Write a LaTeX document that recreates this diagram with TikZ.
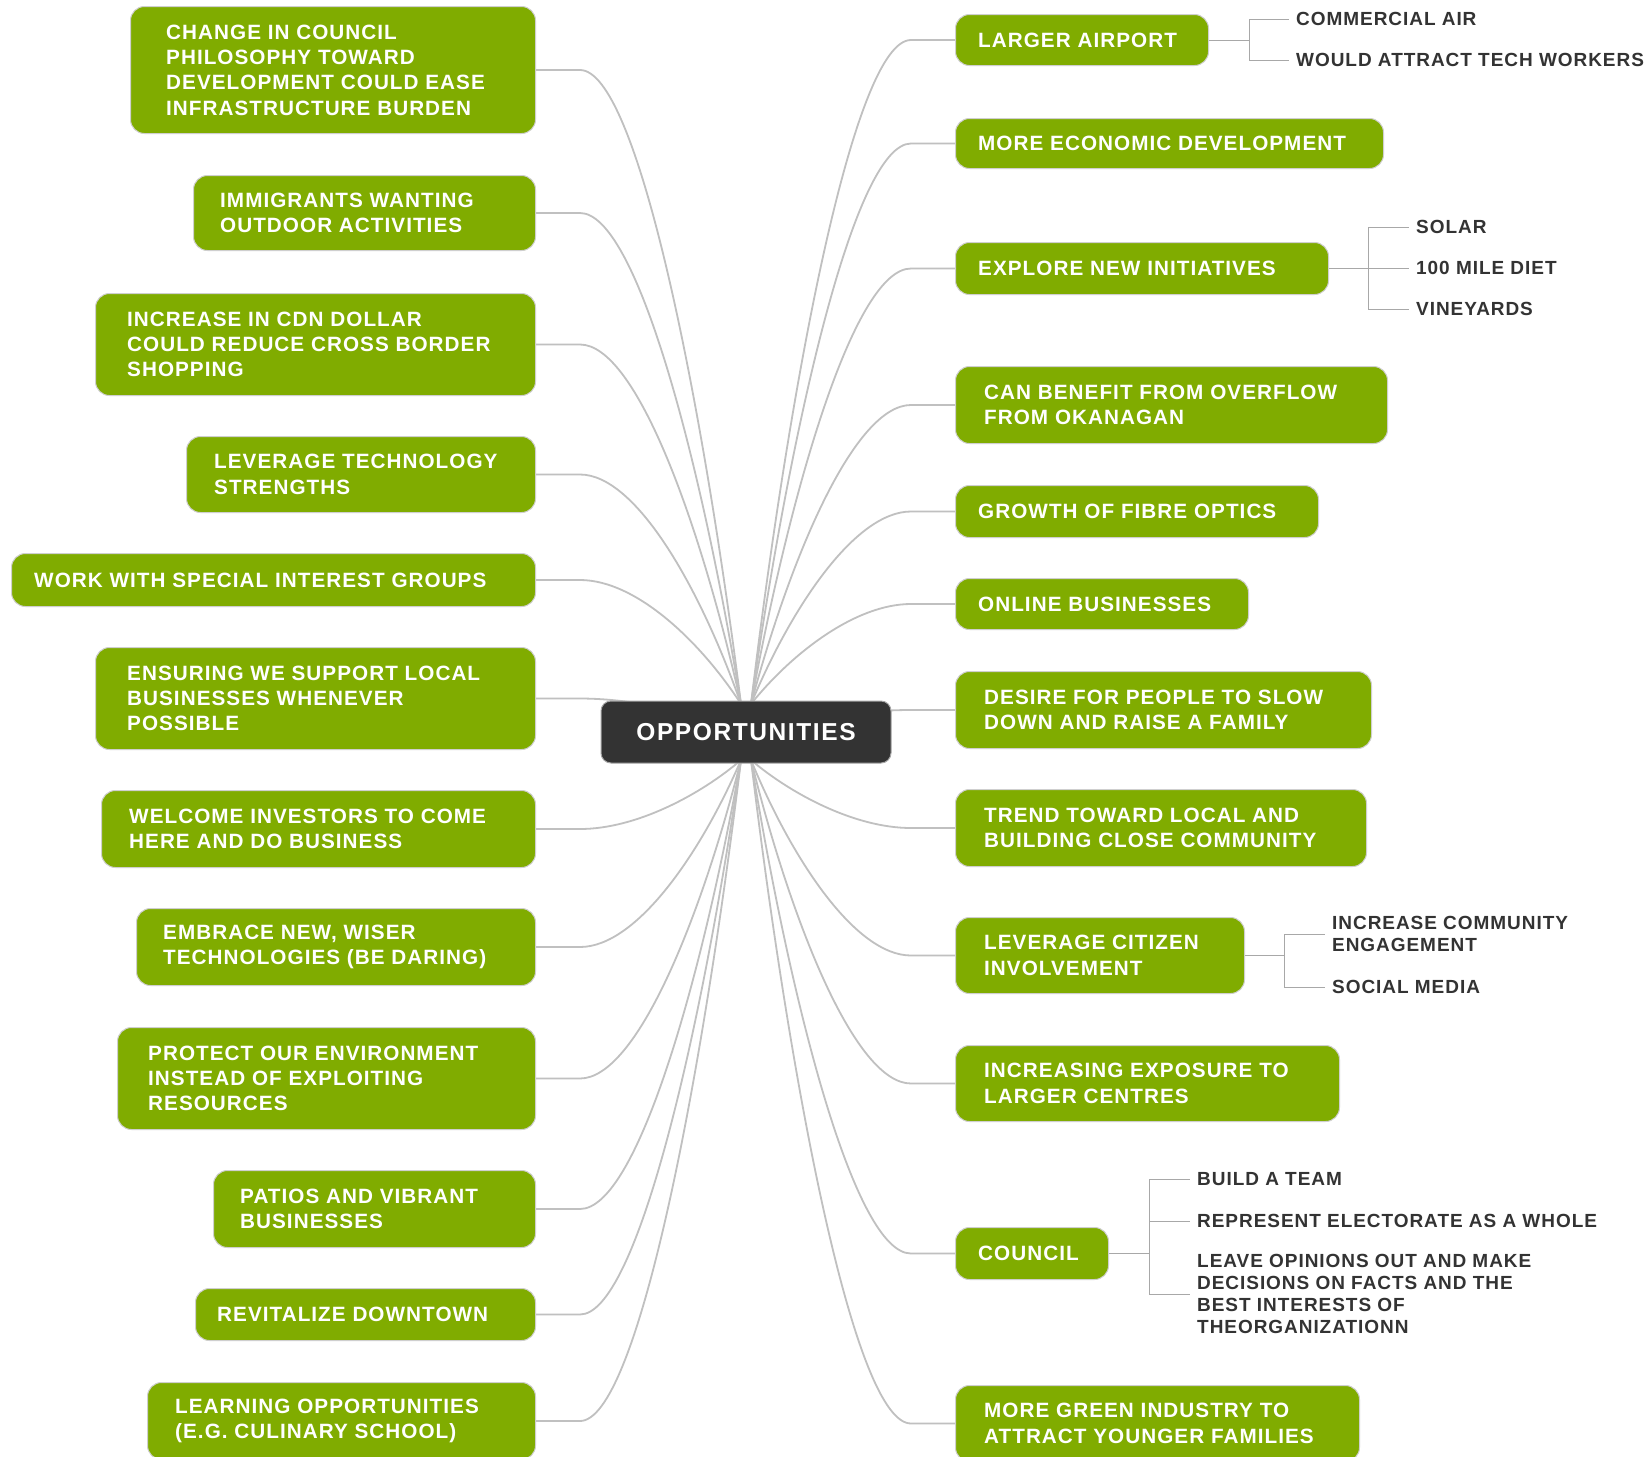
\documentclass[tikz,border=0pt]{standalone}
\usepackage{fontspec}
\setmainfont{Liberation Sans}
\newfontfamily\lsfont[LetterSpace=5]{Liberation Sans}
\newfontfamily\lscfont[LetterSpace=6.5]{Liberation Sans}
\usetikzlibrary{calc}
\pgfdeclarelayer{bg}
\pgfsetlayers{bg,main}
\definecolor{gfill}{HTML}{80AC00}
\definecolor{gline}{HTML}{CFCFCF}
\definecolor{cfill}{HTML}{333333}
\definecolor{connc}{HTML}{C0C0C0}
\definecolor{sublc}{HTML}{A8A8A8}
\definecolor{stextc}{HTML}{333333}
\newcommand{\greenbox}[7]{%
  \node[gbox, anchor=north west, minimum width={(#4)-(#2)}, minimum height={(#5)-(#3)}] (#1) at (#2,#3) {};
  \node[gtext, anchor=west] (#1t) at ([xshift=#6pt]#1.west) {#7};
}
\begin{document}
\begin{tikzpicture}[x=1pt,y=-1pt,
  gbox/.style={rectangle, rounded corners=14pt, fill=gfill, draw=gline, line width=1pt, inner sep=0pt},
  gtext/.style={inner sep=0pt, align=left, text=white, font={\lsfont\bfseries\fontsize{20.7}{25.3}\selectfont}},
  cbox/.style={rectangle, rounded corners=10pt, fill=cfill, draw=gray!70, line width=1pt, text=white, inner sep=0pt,
    font={\lscfont\bfseries\fontsize{24.5}{28}\selectfont}},
  stext/.style={inner sep=0pt, align=left, text=stextc, font={\lsfont\bfseries\fontsize{19}{22}\selectfont}},
  conn/.style={draw=connc, line width=1.8pt},
  subl/.style={draw=sublc, line width=1pt},
  branch/.style={to path={let \p1=(\tikztostart), \p2=(\tikztotarget) in
    -- ({\x1+(#1)},\y1)
    .. controls ({\x1+(#1)+0.35*(\x2-\x1-(#1))},\y1)
    and ({\x1+(#1)+0.75*(\x2-\x1-(#1))},{\y1+0.5*(\y2-\y1)}) .. (\tikztotarget)}}
]
\useasboundingbox (0,0) rectangle (1650,1457);
\begin{pgfonlayer}{bg}
\fill[white] (0,0) rectangle (1650,1457);
\end{pgfonlayer}

% central topic
\node[cbox, minimum width=290, minimum height=62] (c) at (746,732) {OPPORTUNITIES};

% left branches
\greenbox{L1}{130}{6}{535}{133}{36}{CHANGE IN COUNCIL\\PHILOSOPHY TOWARD\\DEVELOPMENT COULD EASE\\INFRASTRUCTURE BURDEN}
\greenbox{L2}{193}{175}{535}{250}{27}{IMMIGRANTS WANTING\\OUTDOOR ACTIVITIES}
\greenbox{L3}{95}{293}{535}{395}{32}{INCREASE IN CDN DOLLAR\\COULD REDUCE CROSS BORDER\\SHOPPING}
\greenbox{L4}{186}{436}{535}{512}{28}{LEVERAGE TECHNOLOGY\\STRENGTHS}
\greenbox{L5}{11}{553}{535}{606}{23}{WORK WITH SPECIAL INTEREST GROUPS}
\greenbox{L6}{95}{647}{535}{749}{32}{ENSURING WE SUPPORT LOCAL\\BUSINESSES WHENEVER\\POSSIBLE}
\greenbox{L7}{101}{790}{535}{867}{28}{WELCOME INVESTORS TO COME\\HERE AND DO BUSINESS}
\greenbox{L8}{136}{908}{535}{985}{27}{EMBRACE NEW, WISER\\TECHNOLOGIES (BE DARING)}
\greenbox{L9}{117}{1027}{535}{1129}{31}{PROTECT OUR ENVIRONMENT\\INSTEAD OF EXPLOITING\\RESOURCES}
\greenbox{L10}{213}{1170}{535}{1247}{27}{PATIOS AND VIBRANT\\BUSINESSES}
\greenbox{L11}{195}{1288}{535}{1340}{22}{REVITALIZE DOWNTOWN}
\greenbox{L12}{147}{1382}{535}{1459}{28}{LEARNING OPPORTUNITIES\\(E.G. CULINARY SCHOOL)}

% right branches
\greenbox{R1}{955}{14}{1208}{65}{23}{LARGER AIRPORT}
\greenbox{R2}{955}{118}{1383}{168}{23}{MORE ECONOMIC DEVELOPMENT}
\greenbox{R3}{955}{242}{1328}{294}{23}{EXPLORE NEW INITIATIVES}
\greenbox{R4}{955}{366}{1387}{443}{29}{CAN BENEFIT FROM OVERFLOW\\FROM OKANAGAN}
\greenbox{R5}{955}{485}{1318}{537}{23}{GROWTH OF FIBRE OPTICS}
\greenbox{R6}{955}{578}{1248}{629}{23}{ONLINE BUSINESSES}
\greenbox{R7}{955}{671}{1371}{748}{29}{DESIRE FOR PEOPLE TO SLOW\\DOWN AND RAISE A FAMILY}
\greenbox{R8}{955}{789}{1366}{866}{29}{TREND TOWARD LOCAL AND\\BUILDING CLOSE COMMUNITY}
\greenbox{R9}{955}{917}{1244}{993}{29}{LEVERAGE CITIZEN\\INVOLVEMENT}
\greenbox{R10}{955}{1045}{1339}{1121}{29}{INCREASING EXPOSURE TO\\LARGER CENTRES}
\greenbox{R11}{955}{1227}{1108}{1279}{23}{COUNCIL}
\greenbox{R12}{955}{1385}{1359}{1461}{29}{MORE GREEN INDUSTRY TO\\ATTRACT YOUNGER FAMILIES}

% sub topics
\node[stext, anchor=west] (S1a) at (1296,19) {COMMERCIAL AIR};
\node[stext, anchor=west] (S1b) at (1296,60) {WOULD ATTRACT TECH WORKERS};
\node[stext, anchor=west] (S3a) at (1416,227) {SOLAR};
\node[stext, anchor=west] (S3b) at (1416,268) {100 MILE DIET};
\node[stext, anchor=west] (S3c) at (1416,309) {VINEYARDS};
\node[stext, anchor=west] (S9a) at (1332,934) {INCREASE COMMUNITY\\ENGAGEMENT};
\node[stext, anchor=west] (S9b) at (1332,987) {SOCIAL MEDIA};
\node[stext, anchor=west] (S11a) at (1197,1179) {BUILD A TEAM};
\node[stext, anchor=west] (S11b) at (1197,1221) {REPRESENT ELECTORATE AS A WHOLE};
\node[stext, anchor=west] (S11c) at (1197,1294) {LEAVE OPINIONS OUT AND MAKE\\DECISIONS ON FACTS AND THE\\BEST INTERESTS OF\\THEORGANIZATIONN};

% bracket coordinates
\coordinate (k1) at (1249,0);
\coordinate (k3) at (1368,0);
\coordinate (k9) at (1284,0);
\coordinate (k11) at (1149,0);

% ends on the central topic
\coordinate (tl) at (741,704);
\coordinate (tr) at (751,704);
\coordinate (bl) at (741,760);
\coordinate (br) at (751,760);

\begin{pgfonlayer}{bg}
\foreach \n/\e in {L1/tl,L2/tl,L3/tl,L4/tl,L5/tl,L6/c.center,L7/bl,L8/bl,L9/bl,L10/bl,L11/bl,L12/bl}{
  \draw[conn] (\n.east) to[branch=44pt] (\e);
}
\foreach \n/\e in {R1/tr,R2/tr,R3/tr,R4/tr,R5/tr,R6/tr,R7/c.center,R8/br,R9/br,R10/br,R11/br,R12/br}{
  \draw[conn] (\n.west) to[branch=-44pt] (\e);
}
\end{pgfonlayer}

% sub-topic brackets
\draw[subl] (R1.east) -- (R1.east -| k1);
\draw[subl] (k1 |- S1a.west) -- (k1 |- S1b.west);
\foreach \s in {S1a,S1b}{\draw[subl] (k1 |- \s.west) -- ([xshift=-7pt]\s.west);}

\draw[subl] (R3.east) -- (R3.east -| k3);
\draw[subl] (k3 |- S3a.west) -- (k3 |- S3c.west);
\foreach \s in {S3a,S3b,S3c}{\draw[subl] (k3 |- \s.west) -- ([xshift=-7pt]\s.west);}

\draw[subl] (R9.east) -- (R9.east -| k9);
\draw[subl] (k9 |- S9a.west) -- (k9 |- S9b.west);
\foreach \s in {S9a,S9b}{\draw[subl] (k9 |- \s.west) -- ([xshift=-7pt]\s.west);}

\draw[subl] (R11.east) -- (R11.east -| k11);
\draw[subl] (k11 |- S11a.west) -- (k11 |- S11c.west);
\foreach \s in {S11a,S11b,S11c}{\draw[subl] (k11 |- \s.west) -- ([xshift=-7pt]\s.west);}
\end{tikzpicture}
\end{document}
